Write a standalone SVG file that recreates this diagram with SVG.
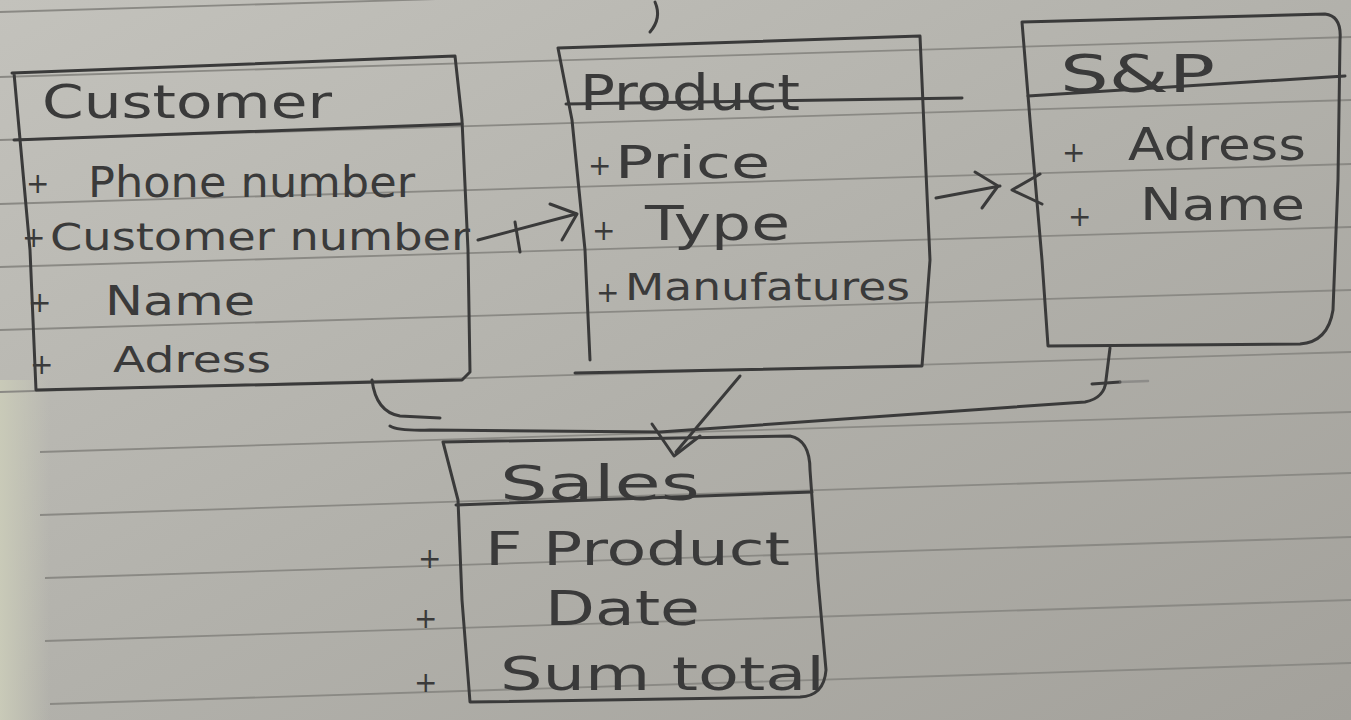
<svg xmlns="http://www.w3.org/2000/svg" width="1351" height="720" viewBox="0 0 1351 720">
<defs>
<linearGradient id="paper" x1="0" y1="0" x2="1" y2="1">
<stop offset="0" stop-color="#c3c2bc"/>
<stop offset="0.5" stop-color="#b2b1ab"/>
<stop offset="1" stop-color="#a3a19b"/>
</linearGradient>
<linearGradient id="edge" x1="0" y1="0" x2="1" y2="0">
<stop offset="0" stop-color="#c9cab8"/>
<stop offset="1" stop-color="#c9cab8" stop-opacity="0"/>
</linearGradient>
</defs>
<style>
.pen{fill:none;stroke:#3a3a3a;stroke-width:3;stroke-linecap:round;stroke-linejoin:round}
.faint{fill:none;stroke:#6e6e6e;stroke-width:2.5;stroke-linecap:round;stroke-linejoin:round}
.rule{stroke:#8a8984;stroke-width:1.8;fill:none}
.t{font-family:"DejaVu Sans","Liberation Sans",sans-serif;fill:#3a3a3a}
.p{font-family:"DejaVu Sans","Liberation Sans",sans-serif;fill:#3a3a3a;font-size:28px}
</style>
<rect width="1351" height="720" fill="url(#paper)"/>
<rect x="0" y="380" width="50" height="340" fill="url(#edge)"/>
<g id="rules">
<path class="rule" d="M0 12 L1351 -28"/>
<path class="rule" d="M0 77 L1351 37"/>
<path class="rule" d="M0 140 L1351 100"/>
<path class="rule" d="M0 204 L1351 164"/>
<path class="rule" d="M0 267 L1351 227"/>
<path class="rule" d="M0 330 L1351 290"/>
<path class="rule" d="M0 392 L1351 352"/>
<path class="rule" d="M40 452 L1351 412"/>
<path class="rule" d="M40 515 L1351 473"/>
<path class="rule" d="M45 578 L1351 537"/>
<path class="rule" d="M45 641 L1351 600"/>
<path class="rule" d="M50 704 L1351 663"/>
</g>
<path class="pen" d="M655 2 Q662 18 650 32"/>
<g id="customer">
<path class="pen" d="M12 73 L455 56 L462 120 L468 250 L470 372 L462 380 L36 390 L30 250 L14 73 Z"/>
<path class="pen" d="M14 140 L462 124"/>
<text class="t" x="42" y="118" font-size="46" textLength="290" lengthAdjust="spacingAndGlyphs">Customer</text>
<text class="p" x="26" y="193">+</text>
<text class="t" x="88" y="197" font-size="42" textLength="327" lengthAdjust="spacingAndGlyphs">Phone number</text>
<text class="p" x="22" y="247">+</text>
<text class="t" x="50" y="250" font-size="38" textLength="420" lengthAdjust="spacingAndGlyphs">Customer number</text>
<text class="p" x="28" y="312">+</text>
<text class="t" x="105" y="315" font-size="40" textLength="150" lengthAdjust="spacingAndGlyphs">Name</text>
<text class="p" x="30" y="374">+</text>
<text class="t" x="113" y="372" font-size="36" textLength="158" lengthAdjust="spacingAndGlyphs">Adress</text>
</g>
<g id="product">
<path class="pen" d="M558 48 L920 36 L925 150 L930 260 L922 366 L575 373 M558 48 L572 120 L585 250 L590 360"/>
<path class="pen" d="M566 104 L962 98"/>
<text class="t" x="580" y="110" font-size="50" textLength="220" lengthAdjust="spacingAndGlyphs">Product</text>
<text class="p" x="588" y="175">+</text>
<text class="t" x="615" y="178" font-size="44" textLength="155" lengthAdjust="spacingAndGlyphs">Price</text>
<text class="p" x="592" y="240">+</text>
<text class="t" x="645" y="240" font-size="48" textLength="145" lengthAdjust="spacingAndGlyphs">Type</text>
<text class="p" x="596" y="302">+</text>
<text class="t" x="625" y="300" font-size="38" textLength="285" lengthAdjust="spacingAndGlyphs">Manufatures</text>
</g>
<g id="snp">
<path class="pen" d="M1022 22 L1325 14 Q1342 16 1340 40 L1338 180 L1333 310 Q1328 342 1300 344 L1048 346 L1042 260 L1030 120 L1022 22"/>
<path class="pen" d="M1028 96 L1345 76"/>
<text class="t" x="1060" y="92" font-size="52" textLength="155" lengthAdjust="spacingAndGlyphs">S&amp;P</text>
<text class="p" x="1062" y="162">+</text>
<text class="t" x="1128" y="160" font-size="44" textLength="178" lengthAdjust="spacingAndGlyphs">Adress</text>
<text class="p" x="1068" y="226">+</text>
<text class="t" x="1140" y="220" font-size="44" textLength="165" lengthAdjust="spacingAndGlyphs">Name</text>
</g>
<g id="sales">
<path class="pen" d="M443 442 L790 436 Q810 440 810 470 L818 580 L826 670 Q824 696 800 697 L470 702 L462 600 L458 500 L443 442"/>
<path class="pen" d="M456 505 L812 492"/>
<text class="t" x="500" y="500" font-size="48" textLength="200" lengthAdjust="spacingAndGlyphs">Sales</text>
<text class="p" x="418" y="568">+</text>
<text class="t" x="485" y="565" font-size="46" textLength="305" lengthAdjust="spacingAndGlyphs">F Product</text>
<text class="p" x="414" y="628">+</text>
<text class="t" x="545" y="625" font-size="48" textLength="155" lengthAdjust="spacingAndGlyphs">Date</text>
<text class="p" x="414" y="692">+</text>
<text class="t" x="500" y="690" font-size="46" textLength="325" lengthAdjust="spacingAndGlyphs">Sum total</text>
</g>
<g id="connectors">
<path class="pen" d="M478 240 L576 214"/>
<path class="pen" d="M515 222 L520 252"/>
<path class="pen" d="M550 204 L577 214 L562 240"/>
<path class="pen" d="M936 198 L1000 186"/>
<path class="pen" d="M975 172 L998 186 L982 208"/>
<path class="pen" d="M1040 174 L1012 190 L1042 204"/>
<path class="pen" d="M372 380 Q376 412 400 416 L440 418"/>
<path class="pen" d="M390 426 Q398 431 430 430 L660 432 L1085 402 Q1105 398 1106 380 L1110 348"/>
<path class="pen" d="M1092 384 L1120 382"/>
<path class="faint" d="M1120 382 L1148 381" opacity="0.5"/>
<path class="pen" d="M740 376 L676 452"/>
<path class="pen" d="M652 424 L674 456 L700 436"/>
</g>
</svg>
